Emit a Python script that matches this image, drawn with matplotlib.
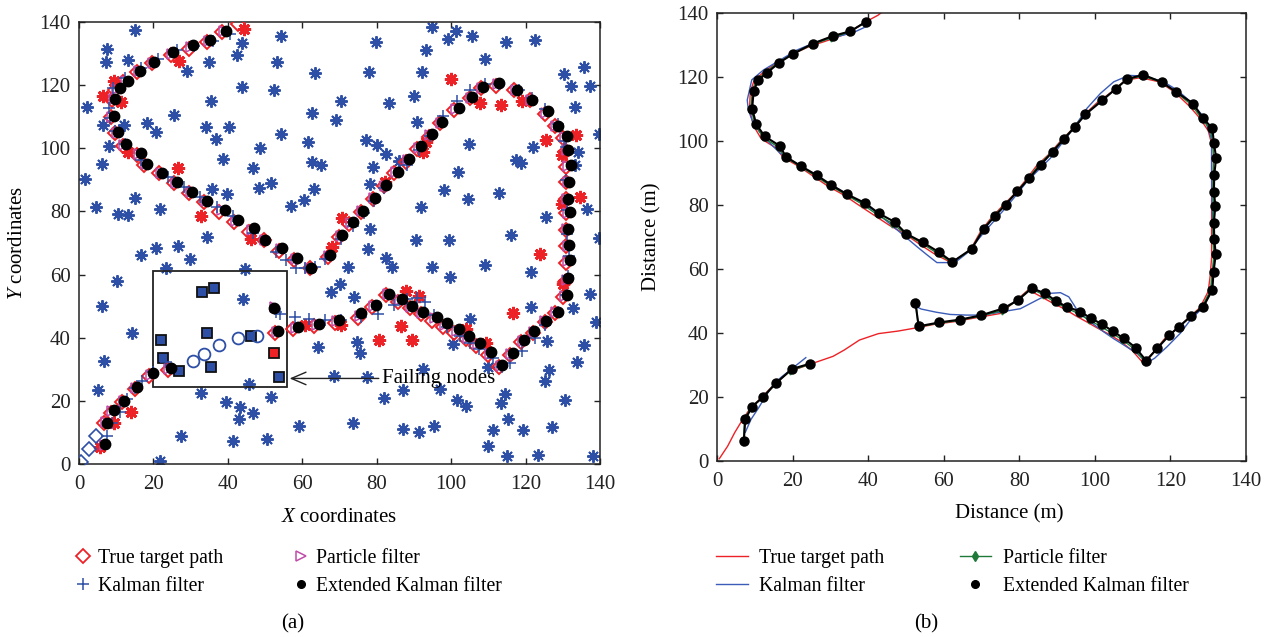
import matplotlib
matplotlib.use("Agg")
import matplotlib.pyplot as plt
from matplotlib.lines import Line2D

plt.rcParams['font.family'] = ['Liberation Serif', 'DejaVu Serif']
plt.rcParams['mathtext.fontset'] = 'custom'
plt.rcParams['mathtext.rm'] = 'Liberation Serif'
plt.rcParams['mathtext.it'] = 'Liberation Serif:italic'

FS = 15
FS_LEG = 14.2

# ---------------- data ----------------
# sensor nodes (blue asterisks)
node_x = [15.0, 7.6, 7.2, 13.2, 2.1, 6.4, 12.1, 8.1, 6.2, 1.7, 4.6, 10.6, 13.2, 15.0, 21.9, 18.2, 20.7, 25.5,
          28.9, 35.0, 35.5, 34.0, 36.7, 40.3, 38.7, 35.7, 39.9, 34.3, 26.7, 20.7, 42.5, 43.9, 43.8, 48.6, 46.8,
          48.4, 51.5, 54.3, 52.3, 53.2, 54.2, 63.4, 62.6, 61.6, 62.7, 63.1, 60.5, 57.1,
          94.9, 101.2, 99.2, 105.7, 93.2, 79.7, 114.7, 122.6, 109.0, 77.8, 92.2, 130.3, 135.7, 132.3, 137.3,
          70.5, 83.3, 90.0, 69.0, 90.7, 133.2, 139.7, 77.2, 80.2, 82.4, 104.8, 121.9, 134.1, 64.9, 78.9, 85.9,
          101.9, 117.4, 118.8, 133.2, 78.3, 98.1, 104.6, 112.9, 91.9, 136.6, 125.5, 78.3, 90.6, 99.3, 116.1,
          139.6, 77.7,
          16.7, 29.9, 23.5, 10.1, 6.3, 14.3, 6.6, 5.0, 44.6, 44.2, 45.6, 32.7, 39.4, 43.2, 43.0, 46.8, 51.5,
          27.3, 41.3, 50.4, 59.1, 21.9, 64.3,
          82.4, 84.2, 72.3, 67.7, 70.1, 73.9, 94.8, 99.7, 109.0, 105.0, 100.5, 74.7, 75.5, 68.6, 77.3, 92.5,
          87.1, 96.9, 82.0, 101.7, 104.1, 110.0, 114.6, 113.4, 115.4, 111.3, 109.9, 115.0, 119.2, 123.4,
          127.1, 130.7, 126.4, 125.3, 125.8, 121.4, 121.4, 132.8, 137.3, 138.9, 135.8, 133.7, 138.1, 87.0,
          91.3, 95.4, 73.5]
node_y = [137.5, 131.6, 127.3, 128.0, 113.0, 107.4, 107.4, 100.7, 95.0, 90.3, 81.3, 79.1, 78.9, 84.3, 80.8,
          108.0, 105.3, 110.6, 124.4, 127.3, 115.0, 106.7, 102.8, 106.7, 96.6, 87.1, 85.5, 71.8, 69.1, 68.3,
          129.5, 133.4, 119.3, 100.0, 93.7, 87.3, 88.9, 104.5, 118.5, 127.3, 135.6, 123.8, 111.1, 102.1,
          95.6, 87.1, 83.6, 81.8,
          138.5, 137.3, 134.7, 135.6, 131.1, 133.7, 133.6, 134.2, 128.3, 124.1, 124.3, 123.5, 125.8, 119.6,
          119.6, 115.1, 114.3, 116.7, 109.0, 108.2, 113.0, 104.4, 102.6, 101.0, 98.2, 101.5, 100.5, 98.7,
          94.8, 94.0, 96.0, 92.6, 96.3, 95.3, 94.8, 88.7, 86.8, 84.0, 85.9, 81.4, 80.9, 78.3, 74.4, 71.0,
          71.0, 72.6, 71.6, 68.0,
          66.2, 65.0, 62.2, 58.0, 50.0, 41.4, 32.6, 23.5, 61.7, 52.3, 25.3, 22.5, 19.5, 18.2, 14.2, 16.0,
          21.1, 8.8, 7.3, 7.9, 12.0, 1.0, 37.2,
          65.4, 62.5, 62.5, 54.4, 56.9, 53.0, 62.5, 59.2, 62.9, 46.0, 37.9, 38.6, 35.3, 27.9, 27.5, 30.0,
          23.4, 23.9, 21.0, 20.4, 18.5, 30.6, 22.2, 19.2, 14.3, 10.8, 5.7, 2.6, 10.7, 2.8, 11.7, 20.3, 29.8,
          26.2, 39.0, 49.8, 60.9, 49.3, 53.8, 44.9, 37.6, 32.4, 2.6, 11.0, 10.0, 12.0, 13.0]

# active nodes (red asterisks)
active_x = [44.4, 26.9, 9.4, 6.4, 11.2, 13.1, 26.6, 32.8, 46.3, 99.9, 107.7, 113.5, 119.1, 125.5, 133.5,
            129.7, 134.6, 129.7, 92.4, 93.3, 82.2, 70.6, 67.9, 5.6, 9.3, 13.9, 60.7, 123.8, 130.1, 116.6,
            88.0, 91.3, 86.6, 80.5, 89.4, 70.5, 104.1, 109.5]
active_y = [137.9, 127.5, 121.3, 116.6, 114.8, 98.8, 93.9, 78.6, 71.3, 121.8, 114.4, 113.6, 115.0, 102.7,
            104.3, 97.8, 84.7, 82.4, 98.8, 102.0, 89.3, 77.8, 68.6, 5.5, 13.1, 16.5, 44.1, 66.4, 57.1, 47.7,
            54.8, 53.3, 43.7, 39.3, 39.3, 43.9, 42.7, 38.2]

# failing nodes (squares)
fail_x = [22.0, 22.6, 26.8, 33.0, 36.3, 34.4, 35.5, 46.3, 53.8]
fail_y = [39.2, 33.7, 29.5, 54.5, 55.9, 41.4, 30.8, 40.4, 27.6]
fail_red_x = [52.5]
fail_red_y = [35.2]

# true target path
start_x = [0.6, 2.8, 4.7]
start_y = [0.7, 4.6, 8.9]
true1_x = [6.8, 8.7, 11.6, 15.0, 18.8, 23.8]
true1_y = [13.0, 16.3, 19.6, 23.8, 27.8, 29.9]
gap_x = [30.7, 33.7, 37.7, 42.7, 47.9]
gap_y = [32.7, 34.7, 37.8, 39.8, 40.6]
true2_x = [52.7, 57.5, 63.2, 68.7, 75.0, 78.6, 82.4, 85.7, 88.9, 92.0, 94.9, 97.8, 100.9, 103.9, 106.8,
           109.9, 112.8, 115.9, 118.8, 122.0, 125.1, 127.8, 130.0, 130.5, 130.9, 130.9, 130.9, 130.9, 130.9,
           130.9, 130.9, 130.9, 130.0, 127.8, 125.1, 121.1, 117.0, 112.1, 108.1, 105.0, 100.7, 96.9, 94.0,
           90.8, 87.8, 84.6, 81.9, 79.0, 75.7, 72.6, 69.9, 66.9, 62.0, 57.7, 53.8, 49.7, 45.7, 41.7, 37.6,
           33.6, 29.6, 25.6, 21.6, 17.6, 15.5, 11.7, 9.7, 8.6, 8.8, 9.7, 11.9, 15.5, 19.5, 24.6, 29.5, 34.5,
           38.5, 42.6]
true2_y = [41.6, 42.7, 43.6, 44.8, 46.1, 49.6, 53.5, 51.4, 49.3, 47.5, 45.4, 43.5, 41.4, 39.5, 37.4, 34.5,
           30.6, 34.5, 38.7, 41.6, 45.1, 47.9, 53.0, 57.7, 63.6, 69.0, 74.1, 79.4, 83.8, 89.3, 94.2, 99.2,
           103.2, 107.1, 110.8, 115.3, 118.5, 119.8, 119.0, 115.8, 112.1, 107.9, 103.7, 99.8, 95.8, 92.3,
           88.1, 83.8, 79.9, 76.0, 72.0, 65.7, 62.0, 64.6, 67.6, 71.0, 73.6, 76.7, 79.9, 83.1, 85.7, 88.9,
           92.1, 94.8, 97.9, 100.7, 104.7, 109.8, 115.3, 118.5, 121.1, 124.3, 126.9, 129.6, 131.5, 133.6,
           136.7, 139.3]
end_x = [43.6]
end_y = [140.2]

# Kalman filter estimate
kf1_x = [7.5, 9.0, 11.0, 13.0, 15.0, 17.0, 20.0, 23.5]
kf1_y = [9.0, 13.0, 16.6, 20.5, 24.0, 26.2, 29.0, 32.3]
kf2_x = [52.9, 54.0, 58.0, 61.7, 66.0, 70.5, 75.8, 80.3, 84.7, 88.2, 90.9, 93.1, 95.3, 98.8, 102.3, 105.0,
         107.6, 111.2, 113.8, 115.8, 119.1, 122.6, 125.3, 128.8, 130.8, 131.5, 131.6, 131.2, 131.0, 130.9,
         130.9, 130.4, 128.8, 125.3, 121.8, 118.2, 112.9, 109.0, 105.0, 101.5, 97.9, 94.4, 91.3, 88.2, 82.0,
         79.4, 76.7, 73.6, 70.5, 66.1, 63.5, 60.8, 58.2, 55.5, 52.9, 46.7, 41.4, 37.0, 32.6, 28.2, 23.8,
         16.7, 12.3, 9.6, 8.3, 8.0, 9.2, 12.3, 16.7, 21.1, 26.4, 30.8, 36.1, 40.5]
kf2_y = [48.2, 47.5, 46.5, 45.8, 45.6, 45.6, 46.7, 47.6, 50.3, 52.4, 52.6, 51.3, 47.2, 43.5, 40.4, 38.2,
         36.3, 33.6, 30.7, 32.1, 35.7, 39.9, 44.1, 48.2, 53.4, 59.7, 65.9, 73.0, 80.5, 90.0, 100.3, 102.4,
         107.6, 112.3, 115.9, 118.5, 120.3, 120.5, 118.5, 114.9, 110.2, 104.0, 99.3, 94.6, 87.3, 83.4, 79.5,
         75.4, 71.2, 64.9, 62.5, 62.0, 62.0, 64.5, 67.0, 73.2, 78.4, 81.5, 84.7, 87.8, 90.9, 96.2, 101.3,
         105.5, 109.7, 112.8, 119.1, 122.2, 125.3, 128.4, 131.0, 132.3, 133.9, 136.3]

# Particle filter estimate
pf1_x = [7.0, 7.3, 9.0, 12.0, 15.3, 19.4, 24.2]
pf1_y = [6.0, 13.2, 16.7, 19.8, 24.1, 28.2, 30.1]
pf2_x = [52.7, 53.2, 58.3, 63.9, 69.3, 75.5, 79.2, 83.0, 86.3, 89.3, 92.3, 95.6, 98.4, 101.5, 104.4, 107.3,
         110.4, 113.3, 116.2, 119.3, 122.2, 125.3, 128.3, 130.6, 131.0, 131.5, 131.3, 131.2, 131.4, 131.2,
         131.3, 131.5, 131.2, 130.6, 128.2, 125.6, 121.4, 117.4, 112.5, 108.4, 105.3, 101.4, 97.2, 94.4,
         91.3, 88.3, 85.2, 82.3, 79.3, 76.1, 73.1, 70.3, 67.2, 62.2, 58.2, 54.2, 49.9, 46.4, 42.3, 38.4,
         34.1, 30.0, 26.0, 22.0, 17.9, 16.1, 12.2, 10.1, 9.0, 9.3, 10.3, 12.6, 16.0, 19.9, 25.0, 30.1, 34.9,
         39.0]
pf2_y = [49.6, 41.9, 43.0, 43.9, 45.2, 47.0, 50.0, 53.9, 52.0, 49.7, 47.9, 46.1, 44.1, 42.1, 40.0, 37.9,
         35.0, 31.0, 34.9, 39.0, 41.8, 45.2, 48.1, 53.3, 58.4, 64.2, 69.2, 74.3, 79.6, 83.9, 89.4, 94.5,
         99.3, 103.6, 107.1, 111.3, 115.3, 118.5, 120.3, 119.2, 116.0, 112.4, 108.1, 104.1, 100.2, 96.2,
         92.5, 88.2, 84.1, 80.0, 76.3, 72.3, 66.0, 62.1, 65.0, 68.0, 71.0, 74.2, 77.1, 80.3, 83.2, 86.0,
         89.1, 92.1, 95.0, 98.2, 101.1, 105.0, 110.0, 115.5, 118.8, 121.2, 124.4, 127.1, 130.0, 132.2,
         134.0, 137.0]

# Extended Kalman filter estimate
ekf1_x = [7.1, 7.5, 9.3, 12.2, 15.7, 19.9, 24.6]
ekf1_y = [6.3, 13.1, 17.0, 20.0, 24.4, 28.8, 30.4]
ekf2_x = [52.5, 53.4, 58.8, 64.4, 69.8, 75.8, 79.7, 83.3, 86.8, 89.6, 92.5, 96.2, 98.9, 102.0, 104.8, 107.7,
          110.8, 113.6, 116.5, 119.7, 122.3, 125.5, 128.7, 131.1, 131.4, 132.0, 131.6, 131.5, 131.9, 131.5,
          131.6, 132.1, 131.5, 131.1, 128.6, 126.0, 121.6, 117.7, 112.8, 108.6, 105.5, 102.0, 97.5, 94.8,
          91.8, 88.8, 85.7, 82.6, 79.5, 76.4, 73.5, 70.6, 67.4, 62.3, 58.7, 54.5, 50.1, 47.0, 42.8, 39.2,
          34.5, 30.3, 26.4, 22.3, 18.2, 16.7, 12.6, 10.4, 9.3, 9.7, 10.9, 13.2, 16.4, 20.2, 25.3, 30.6, 35.3,
          39.4]
ekf2_y = [49.3, 42.1, 43.3, 44.2, 45.5, 47.7, 50.3, 54.0, 52.4, 50.1, 48.2, 46.7, 44.6, 42.7, 40.5, 38.3,
          35.4, 31.3, 35.2, 39.3, 42.0, 45.3, 48.2, 53.5, 59.0, 64.6, 69.3, 74.5, 79.8, 84.0, 89.4, 94.8,
          99.3, 104.0, 107.1, 111.7, 115.3, 118.4, 120.7, 119.4, 116.3, 112.7, 108.3, 104.5, 100.6, 96.6,
          92.6, 88.3, 84.3, 80.1, 76.5, 72.5, 66.3, 62.2, 65.3, 68.3, 71.0, 74.7, 77.4, 80.6, 83.3, 86.2,
          89.3, 92.1, 95.1, 98.4, 101.5, 105.2, 110.1, 115.6, 119.0, 121.3, 124.4, 127.3, 130.4, 132.8,
          134.3, 137.2]

ticks = [0, 20, 40, 60, 80, 100, 120, 140]
labels = ["True target path", "Kalman filter", "Particle filter", "Extended Kalman filter"]

C_BLUE = '#2e4fa6'
C_RED = '#ec2227'
C_MAG = '#c04ca8'
C_GREEN = '#1f7a3a'
C_KF = '#3b5cb8'
C_AX = '#222222'

W, H = 1271, 637
fig = plt.figure(figsize=(W / 100, H / 100), dpi=100)

def style_axes(ax):
    ax.set_xlim(0, 140)
    ax.set_ylim(0, 140)
    ax.set_xticks(ticks)
    ax.set_yticks(ticks)
    ax.tick_params(direction='in', top=True, right=True, length=4, width=1,
                   labelsize=FS, colors=C_AX)
    ax.tick_params(axis='x', pad=8)
    ax.tick_params(axis='y', pad=6)
    for s in ax.spines.values():
        s.set_linewidth(1.1)
        s.set_color(C_AX)

# ---------------- left panel ----------------
axL = fig.add_axes([79 / W, 1 - 464 / H, 521 / W, 442 / H])
style_axes(axL)
ast = (8, 2, 0)
axL.plot(node_x, node_y, ls='none', marker=ast, ms=9, mec=C_BLUE, mew=1.4, zorder=2)
axL.plot(active_x, active_y, ls='none', marker=ast, ms=9.5, mec=C_RED, mew=2.0, zorder=3)
axL.plot(fail_x, fail_y, ls='none', marker='s', ms=6.5, mfc=C_BLUE, mec='#111111', mew=1.3, zorder=3)
axL.plot(fail_red_x, fail_red_y, ls='none', marker='s', ms=6.5, mfc=C_RED, mec='#111111', mew=1.3, zorder=3)
axL.plot(start_x, start_y, ls='none', marker='D', ms=7, mfc='none', mec=C_BLUE, mew=1.2, zorder=4)
axL.plot(gap_x, gap_y, ls='none', marker='o', ms=8.5, mfc='none', mec=C_BLUE, mew=1.3, zorder=4)
axL.plot(true1_x + true2_x, true1_y + true2_y, ls='none', marker='D', ms=7, mfc='none', mec=C_RED,
         mew=1.4, zorder=4)
axL.plot(pf1_x + pf2_x, pf1_y + pf2_y, ls='none', marker='>', ms=7, mfc='none', mec=C_MAG, mew=1.1, zorder=4)
axL.plot(kf1_x + kf2_x, kf1_y + kf2_y, ls='none', marker='+', ms=9, mec=C_BLUE, mew=1.1, zorder=5)
axL.plot(ekf1_x + ekf2_x, ekf1_y + ekf2_y, ls='none', marker='o', ms=7.5, mfc='black', mec='black', zorder=6)

# failing node box and annotation
axL.add_patch(plt.Rectangle((19.9, 24.4), 36.1, 36.7, fill=False, ec=C_AX, lw=1.3, zorder=3))
axL.annotate('Failing nodes', xy=(56.6, 27.1), xytext=(81.3, 27.1), fontsize=FS, va='center', ha='left',
             arrowprops=dict(arrowstyle='->,head_length=0.7,head_width=0.3', lw=1.0, color=C_AX,
                             shrinkA=0, shrinkB=0), zorder=7)

axL.set_xlabel('$X$ coordinates', fontsize=FS)
axL.set_ylabel('$Y$ coordinates', fontsize=FS)
axL.xaxis.set_label_coords(0.5, (464 - 508) / 442)
axL.yaxis.set_label_coords((27 - 79) / 521, 0.5)

hL = [Line2D([], [], ls='none', marker='D', ms=7, mfc='none', mec=C_RED, mew=1.3),
      Line2D([], [], ls='none', marker='+', ms=8, mec=C_BLUE, mew=1.1),
      Line2D([], [], ls='none', marker='>', ms=7, mfc='none', mec=C_MAG, mew=1.1),
      Line2D([], [], ls='none', marker='o', ms=5.5, mfc='black', mec='black')]
fig.legend(hL, labels, ncol=2, loc='upper left', bbox_to_anchor=(75 / W, 1 - 549 / H), frameon=False,
           fontsize=FS_LEG, handlelength=0.8, handletextpad=0.35, columnspacing=3.55, labelspacing=0.45,
           borderpad=0, borderaxespad=0)

# ---------------- right panel ----------------
axR = fig.add_axes([717 / W, 1 - 461 / H, 529 / W, 448 / H])
style_axes(axR)
axR.plot(start_x + true1_x + gap_x + true2_x + end_x, start_y + true1_y + gap_y + true2_y + end_y,
         color=C_RED, lw=1.0, zorder=2)
axR.plot(kf1_x, kf1_y, color=C_KF, lw=1.0, zorder=3)
axR.plot(kf2_x, kf2_y, color=C_KF, lw=1.0, zorder=3)
axR.plot(pf1_x, pf1_y, color=C_GREEN, lw=1.0, marker='d', ms=3.5, zorder=4)
axR.plot(pf2_x, pf2_y, color=C_GREEN, lw=1.0, marker='d', ms=3.5, zorder=4)
axR.plot(ekf1_x, ekf1_y, color='black', lw=1.5, marker='o', ms=6.5, zorder=5)
axR.plot(ekf2_x, ekf2_y, color='black', lw=1.5, marker='o', ms=6.5, zorder=5)

axR.set_xlabel('Distance (m)', fontsize=FS)
axR.set_ylabel('Distance (m)', fontsize=FS)
axR.xaxis.set_label_coords((1009 - 717) / 529, (461 - 504) / 448)
axR.yaxis.set_label_coords((661 - 717) / 529, 0.5)

hR = [Line2D([], [], color=C_RED, lw=1.0),
      Line2D([], [], color=C_KF, lw=1.0),
      Line2D([], [], color=C_GREEN, lw=1.0, marker='d', ms=5),
      Line2D([], [], ls='none', marker='o', ms=5.5, mfc='black', mec='black')]
fig.legend(hR, labels, ncol=2, loc='upper left', bbox_to_anchor=(716 / W, 1 - 549 / H), frameon=False,
           fontsize=FS_LEG, handlelength=1.6, handletextpad=0.6, columnspacing=3.8, labelspacing=0.45,
           borderpad=0, borderaxespad=0)

fig.text(293 / W, 1 - 624 / H, '(a)', ha='center', va='center', fontsize=FS)
fig.text(926 / W, 1 - 624 / H, '(b)', ha='center', va='center', fontsize=FS)

fig.savefig('out.png', dpi=100)
